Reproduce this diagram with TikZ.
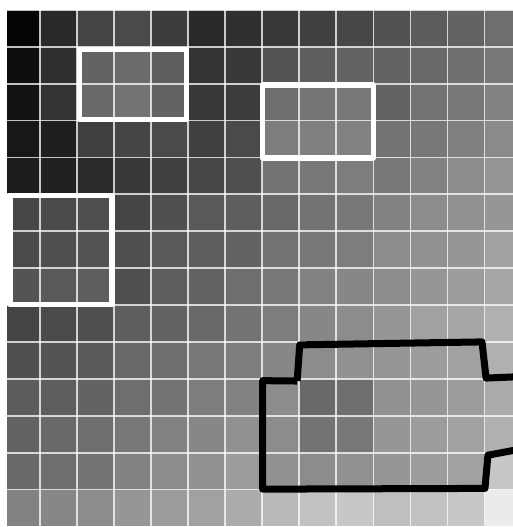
\documentclass[tikz,border=0pt]{standalone}
\usepackage{tikz}

\begin{document}
\begin{tikzpicture}[x=1.004cm, y=1cm,
    gridline/.style={draw=white, opacity=0.75, line width=1.4pt},
    hilite/.style={draw=white, line width=4.2pt, line join=round},
    region/.style={draw=black, line width=5.4pt, line join=round}]
  \useasboundingbox (-0.08,0.266) rectangle (13.766,-14.016);
  \begin{scope}
    \clip (0.11,0.02) rectangle (13.766,-14.016);
    % cell values (percent of white), row by row from the top
    \foreach \rowvals [count=\r from 0] in {
        {2,16,27,29,24,16,19,22,25,28,32,36,39,43},
        {5,19,39,42,37,20,22,33,37,39,39,41,44,47},
        {7,20,41,45,39,22,24,43,46,47,39,45,47,51},
        {9,12,25,27,29,25,29,49,50,51,45,47,50,54},
        {11,13,17,22,25,28,31,45,47,49,47,51,55,59},
        {28,29,31,27,31,35,37,41,45,47,51,55,57,59},
        {29,31,33,31,35,37,39,45,47,49,55,57,59,63},
        {33,35,37,31,37,39,43,47,51,53,55,59,61,65},
        {27,29,31,37,39,41,45,49,53,55,59,63,65,69},
        {31,33,35,41,43,47,49,53,55,57,59,61,63,69},
        {36,37,39,43,45,49,51,55,41,43,57,59,61,67},
        {39,41,43,47,51,53,57,55,45,47,59,61,63,69},
        {41,43,45,51,55,57,61,57,55,57,59,61,63,78},
        {51,53,55,59,61,63,67,73,76,78,75,76,78,92}} {
      \foreach \g [count=\c from 0] in \rowvals {
        \fill[white!\g!black] (\c,-\r) rectangle ++(1,-1);
      }
    }
    \foreach \k in {1,...,13} {
      \draw[gridline] (\k,0.1) -- (\k,-14.1);
    }
    \foreach \k in {0,...,13} {
      \draw[gridline] (0,-\k) -- (14,-\k);
    }
    % outlined region, runs off the right edge
    \draw[region] (7.94,-10.06) -- (8.01,-9.08) -- (12.93,-9.0) -- (13.04,-9.98) -- (14,-9.94);
    \draw[region] (14,-11.9) -- (13.09,-12.07) -- (13.01,-12.97) -- (7.01,-12.99)
      -- (7.01,-10.05) -- (7.94,-10.06);
  \end{scope}
  % highlighted windows
  \draw[hilite] (2.07,-1.07) rectangle (4.95,-2.98);
  \draw[hilite] (7,-2.04) rectangle (10,-4.02);
  \draw[hilite] (0.19,-5.03) rectangle (2.94,-7.99);
\end{tikzpicture}
\end{document}
